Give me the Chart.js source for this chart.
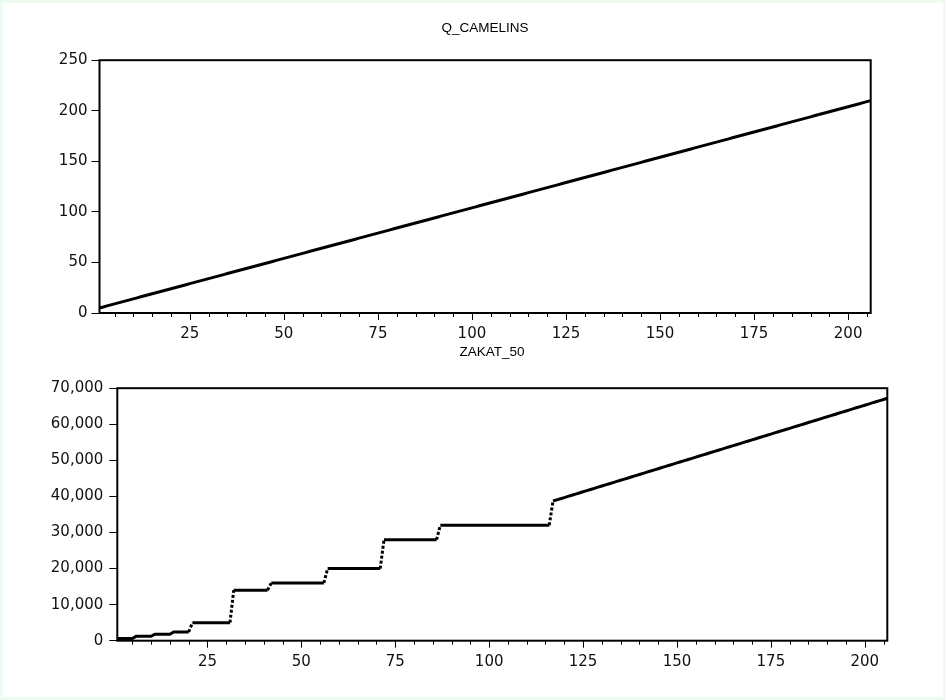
<!DOCTYPE html>
<html>
<head>
<meta charset="utf-8">
<script src="https://cdn.jsdelivr.net/npm/chart.js@4"></script>
<style>
  body { margin: 0; background: #eefbf1; }
  .sheet { position: absolute; left: 3px; top: 3px; width: 940px; height: 694px; background: #fff; }
  canvas { position: absolute; }
  #camels { left: 24px; top: 0; }
  #zakat { left: 40px; top: 330px; }
</style>
</head>
<body>
<div class="sheet"></div>
<canvas id="camels" width="922" height="345"></canvas>
<canvas id="zakat" width="904" height="343"></canvas>
<script>
// observation number (x axis)
const obs = [
  1, 2, 3, 4, 5, 6, 7, 8, 9, 10, 11, 12, 13, 14, 15, 16, 17, 18, 19, 20,
  21, 22, 23, 24, 25, 26, 27, 28, 29, 30, 31, 32, 33, 34, 35, 36, 37, 38, 39, 40,
  41, 42, 43, 44, 45, 46, 47, 48, 49, 50, 51, 52, 53, 54, 55, 56, 57, 58, 59, 60,
  61, 62, 63, 64, 65, 66, 67, 68, 69, 70, 71, 72, 73, 74, 75, 76, 77, 78, 79, 80,
  81, 82, 83, 84, 85, 86, 87, 88, 89, 90, 91, 92, 93, 94, 95, 96, 97, 98, 99, 100,
  101, 102, 103, 104, 105, 106, 107, 108, 109, 110, 111, 112, 113, 114, 115, 116, 117, 118, 119, 120,
  121, 122, 123, 124, 125, 126, 127, 128, 129, 130, 131, 132, 133, 134, 135, 136, 137, 138, 139, 140,
  141, 142, 143, 144, 145, 146, 147, 148, 149, 150, 151, 152, 153, 154, 155, 156, 157, 158, 159, 160,
  161, 162, 163, 164, 165, 166, 167, 168, 169, 170, 171, 172, 173, 174, 175, 176, 177, 178, 179, 180,
  181, 182, 183, 184, 185, 186, 187, 188, 189, 190, 191, 192, 193, 194, 195, 196, 197, 198, 199, 200,
  201, 202, 203, 204, 205, 206
];

// Q_CAMELINS
const qCamelins = [
  5, 6, 7, 8, 9, 10, 11, 12, 13, 14, 15, 16, 17, 18, 19, 20, 21, 22, 23, 24,
  25, 26, 27, 28, 29, 30, 31, 32, 33, 34, 35, 36, 37, 38, 39, 40, 41, 42, 43, 44,
  45, 46, 47, 48, 49, 50, 51, 52, 53, 54, 55, 56, 57, 58, 59, 60, 61, 62, 63, 64,
  65, 66, 67, 68, 69, 70, 71, 72, 73, 74, 75, 76, 77, 78, 79, 80, 81, 82, 83, 84,
  85, 86, 87, 88, 89, 90, 91, 92, 93, 94, 95, 96, 97, 98, 99, 100, 101, 102, 103, 104,
  105, 106, 107, 108, 109, 110, 111, 112, 113, 114, 115, 116, 117, 118, 119, 120, 121, 122, 123, 124,
  125, 126, 127, 128, 129, 130, 131, 132, 133, 134, 135, 136, 137, 138, 139, 140, 141, 142, 143, 144,
  145, 146, 147, 148, 149, 150, 151, 152, 153, 154, 155, 156, 157, 158, 159, 160, 161, 162, 163, 164,
  165, 166, 167, 168, 169, 170, 171, 172, 173, 174, 175, 176, 177, 178, 179, 180, 181, 182, 183, 184,
  185, 186, 187, 188, 189, 190, 191, 192, 193, 194, 195, 196, 197, 198, 199, 200, 201, 202, 203, 204,
  205, 206, 207, 208, 209, 210
];

// ZAKAT_50
const zakat50 = [
  600, 600, 600, 600, 600, 1200, 1200, 1200, 1200, 1200,
  1800, 1800, 1800, 1800, 1800, 2400, 2400, 2400, 2400, 2400,
  5000, 5000, 5000, 5000, 5000, 5000, 5000, 5000, 5000, 5000, 5000,
  14000, 14000, 14000, 14000, 14000, 14000, 14000, 14000, 14000, 14000,
  16000, 16000, 16000, 16000, 16000, 16000, 16000, 16000, 16000, 16000, 16000, 16000, 16000, 16000, 16000,
  20000, 20000, 20000, 20000, 20000, 20000, 20000, 20000, 20000, 20000, 20000, 20000, 20000, 20000, 20000,
  28000, 28000, 28000, 28000, 28000, 28000, 28000, 28000, 28000, 28000, 28000, 28000, 28000, 28000, 28000,
  32000, 32000, 32000, 32000, 32000, 32000, 32000, 32000, 32000, 32000,
  32000, 32000, 32000, 32000, 32000, 32000, 32000, 32000, 32000, 32000,
  32000, 32000, 32000, 32000, 32000, 32000, 32000, 32000, 32000, 32000,
  38720, 39040, 39360, 39680, 40000, 40320, 40640, 40960, 41280, 41600,
  41920, 42240, 42560, 42880, 43200, 43520, 43840, 44160, 44480, 44800,
  45120, 45440, 45760, 46080, 46400, 46720, 47040, 47360, 47680, 48000,
  48320, 48640, 48960, 49280, 49600, 49920, 50240, 50560, 50880, 51200,
  51520, 51840, 52160, 52480, 52800, 53120, 53440, 53760, 54080, 54400,
  54720, 55040, 55360, 55680, 56000, 56320, 56640, 56960, 57280, 57600,
  57920, 58240, 58560, 58880, 59200, 59520, 59840, 60160, 60480, 60800,
  61120, 61440, 61760, 62080, 62400, 62720, 63040, 63360, 63680, 64000,
  64320, 64640, 64960, 65280, 65600, 65920, 66240, 66560, 66880, 67200
];

// tick positions on the x axis
const xTicks = [5, 10, 15, 20, 25, 30, 35, 40, 45, 50, 55, 60, 65, 70, 75, 80, 85, 90, 95, 100,
  105, 110, 115, 120, 125, 130, 135, 140, 145, 150, 155, 160, 165, 170, 175, 180, 185, 190, 195, 200, 205];
const xLabels = [25, 50, 75, 100, 125, 150, 175, 200];

Chart.defaults.font.family = 'DejaVu Sans';
Chart.defaults.font.size = 15;
Chart.defaults.color = '#111';

// box round the plot + short/long ticks under it
const frame = {
  id: 'frame',
  afterDatasetsDraw(chart) {
    const { ctx, chartArea: a, scales } = chart;
    ctx.save();
    ctx.strokeStyle = '#000';
    ctx.lineWidth = 1;
    xTicks.forEach(v => {
      const px = Math.round(scales.x.getPixelForValue(v)) + 0.5;
      const len = xLabels.includes(v) ? 7 : 4;
      ctx.beginPath();
      ctx.moveTo(px, a.bottom);
      ctx.lineTo(px, a.bottom + len);
      ctx.stroke();
    });
    ctx.lineWidth = 2;
    ctx.strokeRect(a.left, a.top, a.right - a.left, a.bottom - a.top);
    ctx.restore();
  }
};

function makePanel(el, title, values, opts) {
  return new Chart(el, {
    type: 'line',
    data: {
      datasets: [{
        data: obs.map((x, i) => ({ x: x, y: values[i] })),
        borderColor: '#000',
        borderWidth: 3,
        pointRadius: 0,
        tension: 0,
        segment: opts.segment
      }]
    },
    options: {
      responsive: false,
      animation: false,
      plugins: {
        legend: { display: false },
        tooltip: { enabled: false },
        title: {
          display: true,
          text: title,
          color: '#000',
          font: { family: 'Liberation Sans', size: 13.5, weight: 'normal' },
          padding: { top: opts.titleTop, bottom: opts.titleBottom }
        }
      },
      scales: {
        x: {
          type: 'linear',
          min: 1,
          max: 206,
          grid: { display: false, drawTicks: false },
          border: { display: false },
          afterBuildTicks: s => { s.ticks = xTicks.map(v => ({ value: v })); },
          afterFit: s => { s.height = opts.xHeight; },
          ticks: {
            autoSkip: false,
            maxRotation: 0,
            padding: 12,
            callback: v => xLabels.includes(v) ? v : ''
          }
        },
        y: {
          min: 0,
          max: opts.yMax,
          grid: { drawOnChartArea: false, tickLength: 8, tickColor: '#000' },
          border: { display: false },
          afterFit: s => { s.width = opts.yWidth; },
          ticks: { stepSize: opts.yStep, padding: opts.yPad }
        },
        // empty right axis, only keeps the space right of the plot
        gap: {
          position: 'right',
          min: 0,
          max: 1,
          grid: { display: false, drawTicks: false },
          border: { display: false },
          ticks: { display: false },
          afterFit: s => { s.width = opts.right; }
        }
      }
    },
    plugins: [frame]
  });
}

makePanel(document.getElementById('camels'), 'Q_CAMELINS', qCamelins, {
  right: 75.3, titleTop: 20, titleBottom: 24, xHeight: 32,
  yMax: 250, yStep: 50, yWidth: 75.5, yPad: 4
});

makePanel(document.getElementById('zakat'), 'ZAKAT_50', zakat50, {
  right: 56.7, titleTop: 14, titleBottom: 28, xHeight: 32.3,
  yMax: 70000, yStep: 10000, yWidth: 77.3, yPad: 6,
  segment: {
    borderDash: c => Math.abs(c.p1.parsed.y - c.p0.parsed.y) > 1000 ? [3, 2] : undefined
  }
});
</script>
</body>
</html>
